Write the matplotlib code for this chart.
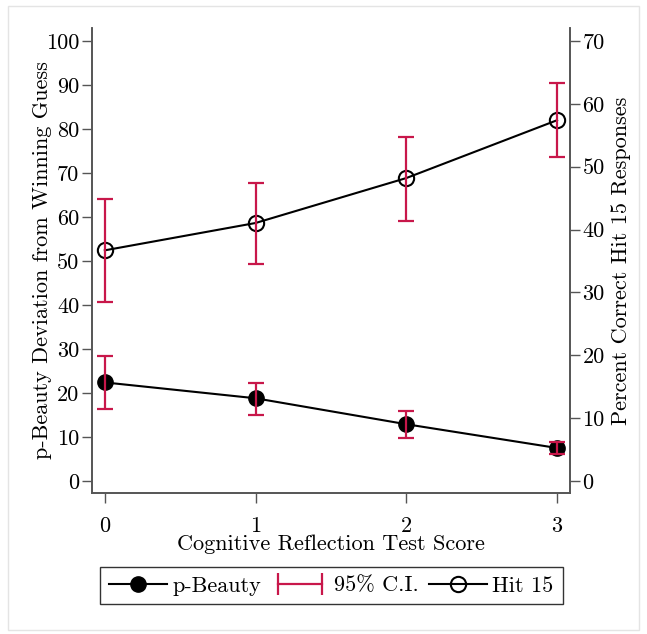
import matplotlib
matplotlib.use("Agg")
import matplotlib.pyplot as plt
from matplotlib.lines import Line2D
from matplotlib.legend_handler import HandlerLine2D
from matplotlib.patches import Rectangle

plt.rcParams['font.family'] = 'serif'
plt.rcParams['font.serif'] = ['cmr10']
plt.rcParams['mathtext.fontset'] = 'cm'
plt.rcParams['axes.unicode_minus'] = False

# data
crt_score = [0, 1, 2, 3]
pbeauty = [22.4, 18.8, 12.9, 7.5]
pbeauty_lo = [16.4, 15.0, 9.8, 6.1]
pbeauty_hi = [28.3, 22.3, 16.0, 8.8]
hit15 = [36.7, 41.05, 48.2, 57.4]
hit15_lo = [28.4, 34.6, 41.4, 51.5]
hit15_hi = [44.8, 47.4, 54.8, 63.4]

red = '#C8174A'
spine_col = '#555555'
fs = 16

fig = plt.figure(figsize=(6.47, 6.34), dpi=100)
fig.patches.append(Rectangle((0.012, 0.006), 0.976, 0.985, transform=fig.transFigure,
                             fill=False, edgecolor='#e4e4e4', lw=1))
ax = fig.add_axes([0.142, 0.2224, 0.739, 0.7334])
ax2 = ax.twinx()

# p-Beauty on left axis
ax.plot(crt_score, pbeauty, color='black', lw=1.5, marker='o', ms=11, mfc='black', mec='black', zorder=3)
err_lo = [p - l for p, l in zip(pbeauty, pbeauty_lo)]
err_hi = [h - p for p, h in zip(pbeauty, pbeauty_hi)]
ax.errorbar(crt_score, pbeauty, yerr=[err_lo, err_hi], fmt='none', ecolor=red,
            elinewidth=1.6, capsize=6, capthick=1.6, zorder=4)

# Hit 15 on right axis
ax2.plot(crt_score, hit15, color='black', lw=1.5, marker='o', ms=11, mfc='none', mec='black', mew=1.5, zorder=3)
err_lo2 = [p - l for p, l in zip(hit15, hit15_lo)]
err_hi2 = [h - p for p, h in zip(hit15, hit15_hi)]
ax2.errorbar(crt_score, hit15, yerr=[err_lo2, err_hi2], fmt='none', ecolor=red,
             elinewidth=1.6, capsize=6, capthick=1.6, zorder=4)

ax.set_xlim(-0.086, 3.086)
ax.set_ylim(-2.73, 102.95)
ax2.set_ylim(-1.91, 72.07)
ax.set_xticks(crt_score)
ax.set_yticks(range(0, 101, 10))
ax2.set_yticks(range(0, 71, 10))

for a in (ax, ax2):
    a.spines['top'].set_visible(False)
    for s in a.spines.values():
        s.set_color(spine_col)
        s.set_linewidth(1.2)
    a.tick_params(direction='out', length=7, width=1, color=spine_col, labelsize=fs, pad=2)
ax.tick_params(axis='x', pad=10)

ax.set_xlabel('Cognitive Reflection Test Score', fontsize=fs, labelpad=-1)
ax.set_ylabel('p-Beauty Deviation from Winning Guess', fontsize=fs, labelpad=-4)
ax2.set_ylabel('Percent Correct Hit 15 Responses', fontsize=fs, labelpad=5)

h1 = Line2D([], [], color='black', lw=1.5, marker='o', ms=11, mfc='black', mec='black')
h2 = Line2D([], [], color=red, lw=1.6, marker='|', ms=16, mew=1.6)
h3 = Line2D([], [], color='black', lw=1.5, marker='o', ms=11, mfc='none', mec='black', mew=1.5)
leg = fig.legend([h1, h2, h3], ['p-Beauty', '95% C.I.', 'Hit 15'], loc='center',
                 bbox_to_anchor=(0.512, 0.076), ncol=3, fontsize=fs, frameon=True,
                 fancybox=False, edgecolor='black', handlelength=2.6, handletextpad=0.25,
                 columnspacing=0.45, borderpad=0.4, borderaxespad=0,
                 handler_map={h2: HandlerLine2D(numpoints=2)})
leg.get_frame().set_linewidth(1.0)

fig.savefig('out.png', dpi=100)
